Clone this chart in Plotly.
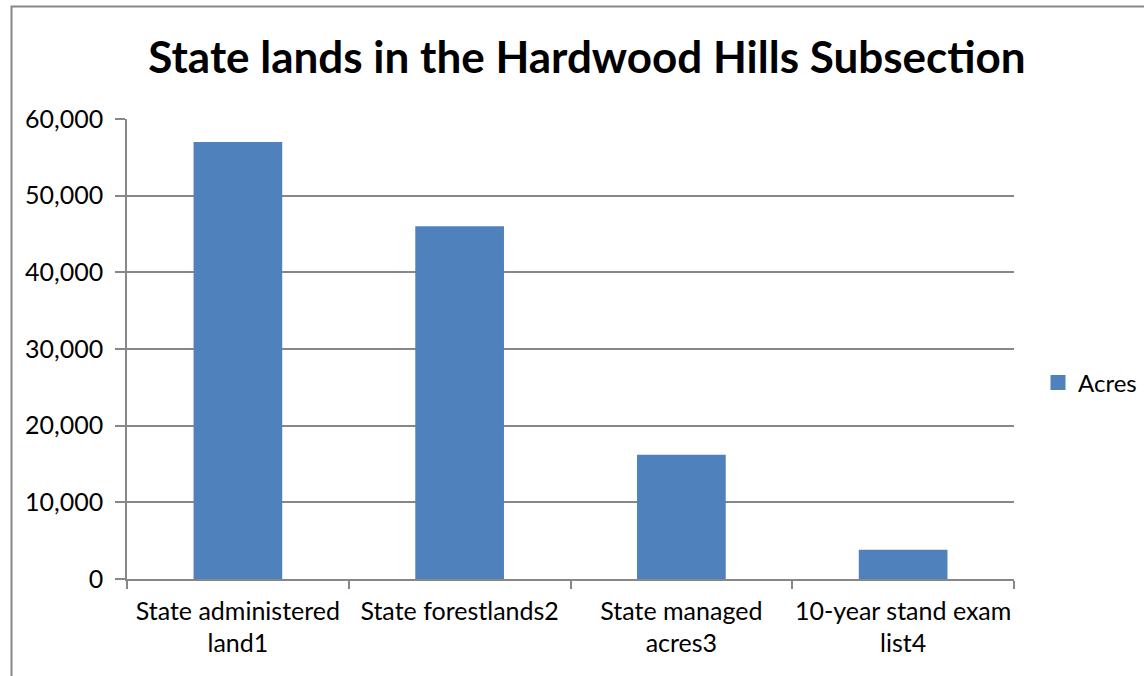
import plotly.graph_objects as go

# Chart data
categories = ["State administered<br>land1", "State forestlands2", "State managed<br>acres3", "10-year stand exam<br>list4"]
acres = [57000, 46000, 16200, 3800]
y_ticks = [0, 10000, 20000, 30000, 40000, 50000, 60000]

W, H = 1144, 676
L, R, T, B = 127, 130, 119, 97
pw, ph = W - L - R, H - T - B

font_family = "Lato, 'Open Sans', sans-serif"
grid_col = "#878787"
bar_col = "#4F81BD"

fig = go.Figure()
fig.add_trace(go.Bar(
    x=categories, y=acres, name="Acres", legendgroup="acres", showlegend=False,
    marker=dict(color=bar_col, line=dict(width=0)),
))
# legend entry with a larger square swatch
fig.add_trace(go.Scatter(
    x=[None], y=[None], name="Acres", legendgroup="acres", mode="markers",
    marker=dict(symbol="square", size=15, color=bar_col),
))

def px_to_px(x):
    return (x - L) / pw

def py_to_py(y):
    return (H - B - y) / ph

fig.update_layout(
    width=W, height=H,
    margin=dict(l=L, r=R, t=T, b=B, autoexpand=False),
    paper_bgcolor="white", plot_bgcolor="white",
    font=dict(family=font_family, size=25, color="black"),
    bargap=0.6,
    title=dict(
        text="<b>State lands in the Hardwood Hills Subsection</b>",
        font=dict(family=font_family, size=44, color="black"),
        x=587 / W, xanchor="center", xref="container",
        y=1 - 58 / H, yanchor="middle", yref="container",
    ),
    xaxis=dict(
        categoryorder="array", categoryarray=categories,
        showline=True, linecolor=grid_col, linewidth=1.5,
        ticks="outside", tickson="boundaries", ticklen=8, tickcolor=grid_col, tickwidth=1.5,
        showgrid=False, tickfont=dict(size=25), tickangle=0, fixedrange=True,
        ticklabelstandoff=9,
    ),
    yaxis=dict(
        range=[0, 60000], tickvals=y_ticks, tickformat=",",
        showline=True, linecolor=grid_col, linewidth=1.5,
        ticks="outside", ticklen=10, tickcolor=grid_col, tickwidth=1.5,
        showgrid=True, gridcolor=grid_col, gridwidth=1.5,
        zeroline=False, tickfont=dict(size=25), ticklabelstandoff=7,
    ),
    showlegend=True,
    legend=dict(
        x=1038 / W, y=1 - 383 / H, xref="container", yref="container",
        xanchor="left", yanchor="middle",
        font=dict(size=24), bgcolor="rgba(0,0,0,0)",
    ),
    shapes=[dict(
        type="rect", xref="paper", yref="paper",
        x0=px_to_px(11.5), x1=px_to_px(1160), y0=py_to_py(700), y1=py_to_py(6.5),
        line=dict(color=grid_col, width=2), fillcolor="rgba(0,0,0,0)", layer="below",
    )],
)

fig.write_html("out.html")
